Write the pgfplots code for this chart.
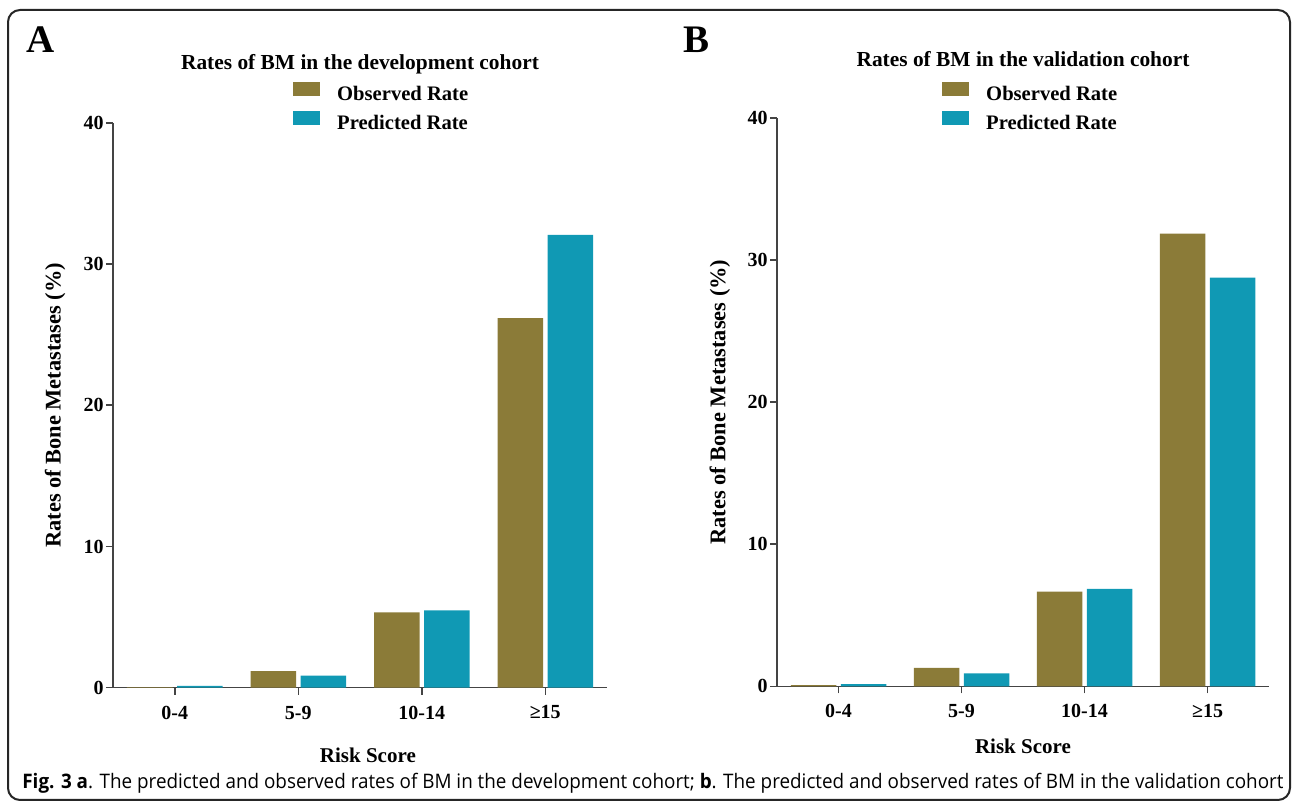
\documentclass[border=0pt]{standalone}
\usepackage{fontspec}
\setmainfont{Liberation Serif}
\newfontfamily\capfont{Open Sans}
\usepackage{pgfplots}
\pgfplotsset{compat=1.18}
\definecolor{obs}{HTML}{8B7B38}
\definecolor{pred}{HTML}{1099B4}
\definecolor{axgray}{HTML}{444444}

\pgfplotstableread{
cat obs pred
0 0.04 0.12
1 1.18 0.85
2 5.34 5.48
3 26.16 32.06
}\devtable
\pgfplotstableread{
cat obs pred
0 0.09 0.16
1 1.29 0.91
2 6.66 6.85
3 31.85 28.76
}\valtable

\pgfplotsset{
  bmstyle/.style={
    scale only axis,
    axis x line*=bottom, axis y line*=left,
    axis line style={axgray, line width=0.75pt},
    tick style={axgray, line width=0.75pt},
    tick align=outside,
    major tick length=3.5pt,
    xmin=-0.5, xmax=3.5, ymin=0, ymax=40,
    ytick={0,10,20,30,40},
    xtick={0,1,2,3},
    xticklabels={0-4,5-9,10-14,≥15},
    /pgf/number format/assume math mode=true,
    tick label style={font=\bfseries\fontsize{10}{12}\selectfont},
    yticklabel style={inner sep=1pt},
    xticklabel style={yshift=-2pt},
    ylabel={Rates of Bone Metastases (\%)},
    xlabel={Risk Score},
    label style={font=\bfseries\fontsize{10.5}{12}\selectfont},
    ylabel style={font=\bfseries\fontsize{11.2}{12}\selectfont},
    title style={font=\bfseries\fontsize{10.7}{12}\selectfont, at={(0.5,1)}, anchor=center},
    ybar, bar width=22.75pt,
    legend cell align=left,
    legend image code/.code={\fill[#1] (0pt,-0.2pt) rectangle (13.5pt,6.8pt);},
    legend style={draw=none, fill=none, inner sep=0pt, column sep=8.5pt, row sep=3pt,
      font=\bfseries\fontsize{10.3}{12}\selectfont,
      nodes={inner sep=0pt, text height=7pt, text depth=2pt}},
  }
}

\begin{document}
\begin{tikzpicture}
\path[use as bounding box] (0pt,0pt) rectangle (647.5pt,403.5pt);
\draw[line width=1pt, color=black!85, rounded corners=6pt] (4pt,3.5pt) rectangle (645pt,398.5pt);

\node[font=\bfseries\fontsize{19.5}{20}\selectfont] at (20.5pt,383.5pt) {A};
\node[font=\bfseries\fontsize{19.5}{20}\selectfont] at (348pt,383.5pt) {B};

\begin{axis}[bmstyle,
  at={(56.5pt,59.65pt)}, anchor=south west,
  width=247pt, height=282.45pt,
  title={Rates of BM in the development cohort},
  title style={yshift=23.4pt},
  ylabel style={at={(axis description cs:-0.1174,0.5)}, anchor=center},
  xlabel style={at={(axis description cs:0.516,0)}, anchor=center, yshift=-34pt},
  legend style={at={(axis description cs:0.364,1.073)}, anchor=north west},
]
\addplot[fill=obs, draw=none, bar shift=-12.5pt] table[x=cat, y=obs] {\devtable};
\addplot[fill=pred, draw=none, bar shift=12.5pt] table[x=cat, y=pred] {\devtable};
\legend{Observed Rate, Predicted Rate}
\end{axis}

\begin{axis}[bmstyle,
  at={(388.5pt,60.35pt)}, anchor=south west,
  width=246pt, height=284.2pt,
  title={Rates of BM in the validation cohort},
  title style={yshift=23.5pt},
  ylabel style={at={(axis description cs:-0.116,0.5)}, anchor=center},
  xlabel style={at={(axis description cs:0.5,0)}, anchor=center, yshift=-30pt},
  legend style={at={(axis description cs:0.335,1.064)}, anchor=north west},
]
\addplot[fill=obs, draw=none, bar shift=-12.5pt] table[x=cat, y=obs] {\valtable};
\addplot[fill=pred, draw=none, bar shift=12.5pt] table[x=cat, y=pred] {\valtable};
\legend{Observed Rate, Predicted Rate}
\end{axis}

\node[anchor=base west, inner sep=0pt] at (11pt,9pt) {\resizebox{630.5pt}{\height}{\capfont\fontsize{10}{12}\selectfont \textbf{Fig. 3 a}. The predicted and observed rates of BM in the development cohort; \textbf{b}. The predicted and observed rates of BM in the validation cohort}};
\end{tikzpicture}
\end{document}
